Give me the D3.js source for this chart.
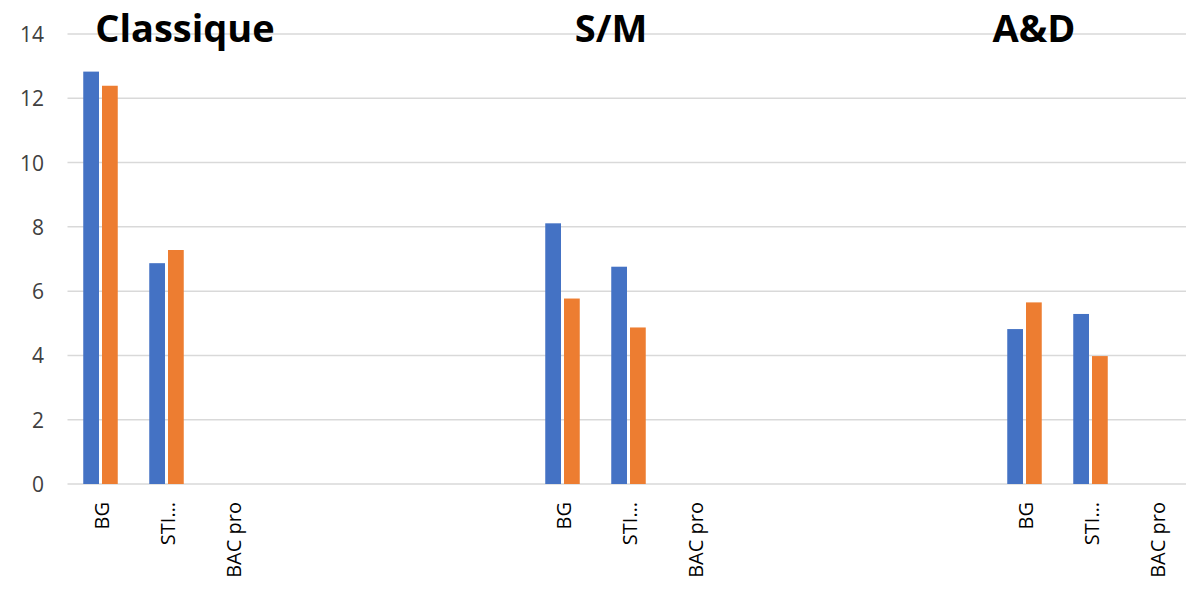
<!DOCTYPE html>
<html>
<head>
<meta charset="utf-8">
<script src="https://cdn.jsdelivr.net/npm/d3@7/dist/d3.min.js"></script>
<style>
  html, body { margin: 0; padding: 0; background: #ffffff; }
  svg { display: block; }
</style>
</head>
<body>
<svg id="chart" width="1186" height="590"></svg>
<script>
// ---- data ----
const categories = ["BG", "STI…", "BAC pro", "", "", "", "", "BG", "STI…", "BAC pro", "", "", "", "", "BG", "STI…", "BAC pro"];
const seriesBlue   = [12.83, 6.87, null, null, null, null, null, 8.11, 6.76, null, null, null, null, null, 4.82, 5.29, null];
const seriesOrange = [12.39, 7.28, null, null, null, null, null, 5.77, 4.87, null, null, null, null, null, 5.65, 3.98, null];
const seriesNames  = ["s1", "s2"];
const groupTitles  = ["Classique", "S/M", "A&D"];
const yTicks       = [0, 2, 4, 6, 8, 10, 12, 14];

// ---- layout ----
const W = 1186, H = 590;
const plot = { left: 67.5, right: 1189.5, top: 34, bottom: 484 };
const colors = { s1: "#4472C4", s2: "#ED7D31" };
const titleX = [185, 611, 1034];

const svg = d3.select("#chart");

const x = d3.scaleBand()
  .domain(d3.range(categories.length))
  .range([plot.left, plot.right])
  .padding(0);

const xInner = d3.scaleBand()
  .domain(seriesNames)
  .range([-17.25, 17.25])
  .paddingInner(0.16);

const y = d3.scaleLinear().domain([0, 14]).range([plot.bottom, plot.top]);

// gridlines
svg.append("g")
  .selectAll("line")
  .data(yTicks)
  .join("line")
  .attr("x1", plot.left)
  .attr("x2", W)
  .attr("y1", d => y(d))
  .attr("y2", d => y(d))
  .attr("stroke", "#d9d9d9")
  .attr("stroke-width", 1.5);

// y axis labels
const yAxis = d3.axisLeft(y).tickValues(yTicks).tickSize(0).tickPadding(0);
const yg = svg.append("g")
  .attr("transform", `translate(${44},0)`)
  .call(yAxis);
yg.select(".domain").remove();
yg.selectAll("text")
  .attr("font-family", "'Open Sans', sans-serif")
  .attr("font-size", 21)
  .attr("fill", "#404040")
  .attr("dy", "0.36em");

// bars
const rows = categories.map((c, i) => ({ i, s1: seriesBlue[i], s2: seriesOrange[i] }));
const barData = [];
rows.forEach(r => seriesNames.forEach(s => { if (r[s] != null) barData.push({ i: r.i, s, v: r[s] }); }));

svg.append("g")
  .selectAll("rect")
  .data(barData)
  .join("rect")
  .attr("x", d => x(d.i) + x.bandwidth() / 2 + xInner(d.s))
  .attr("width", xInner.bandwidth())
  .attr("y", d => y(d.v))
  .attr("height", d => y(0) - y(d.v))
  .attr("fill", d => colors[d.s]);

// x axis labels (rotated)
const xAxis = d3.axisBottom(x).tickFormat(i => categories[i]).tickSize(0).tickPadding(0);
const xg = svg.append("g")
  .attr("transform", `translate(0,${plot.bottom})`)
  .call(xAxis);
xg.select(".domain").remove();
xg.selectAll(".tick text")
  .attr("font-family", "'Open Sans', sans-serif")
  .attr("font-size", 20)
  .attr("fill", "#000000")
  .attr("text-anchor", "end")
  .attr("transform", "rotate(-90)")
  .attr("x", -18)
  .attr("y", 1)
  .attr("dy", "0.36em");

// group titles
svg.append("g")
  .selectAll("text")
  .data(groupTitles)
  .join("text")
  .attr("x", (d, i) => titleX[i])
  .attr("y", 42)
  .attr("text-anchor", "middle")
  .attr("font-family", "'Open Sans', sans-serif")
  .attr("font-weight", "bold")
  .attr("font-size", 38)
  .attr("fill", "#000000")
  .text(d => d);
</script>
</body>
</html>
